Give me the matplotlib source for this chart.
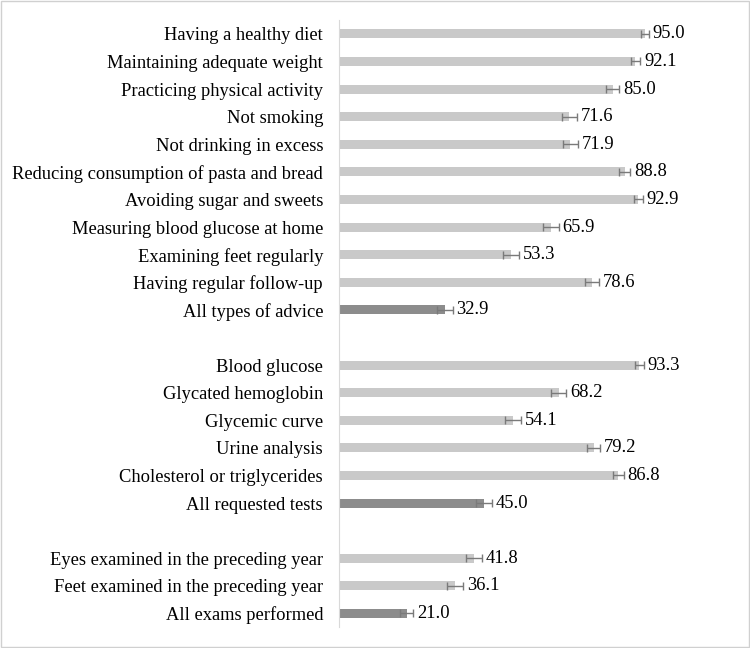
import matplotlib.pyplot as plt
import numpy as np

plt.rcParams['font.family'] = ['Liberation Serif', 'DejaVu Serif']

# groups of items, top to bottom; None marks the blank row between groups
labels = ['Having a healthy diet', 'Maintaining adequate weight', 'Practicing physical activity',
          'Not smoking', 'Not drinking in excess', 'Reducing consumption of pasta and bread',
          'Avoiding sugar and sweets', 'Measuring blood glucose at home', 'Examining feet regularly',
          'Having regular follow-up', 'All types of advice', None,
          'Blood glucose', 'Glycated hemoglobin', 'Glycemic curve', 'Urine analysis',
          'Cholesterol or triglycerides', 'All requested tests', None,
          'Eyes examined in the preceding year', 'Feet examined in the preceding year',
          'All exams performed']
values = [95.0, 92.1, 85.0, 71.6, 71.9, 88.8, 92.9, 65.9, 53.3, 78.6, 32.9, None,
          93.3, 68.2, 54.1, 79.2, 86.8, 45.0, None,
          41.8, 36.1, 21.0]
errors = [1.3, 1.5, 2.0, 2.3, 2.3, 1.7, 1.4, 2.4, 2.5, 2.1, 2.4, None,
          1.3, 2.4, 2.5, 2.0, 1.7, 2.5, None,
          2.5, 2.4, 2.0]
totals = ['All types of advice', 'All requested tests', 'All exams performed']

fig = plt.figure(figsize=(7.5, 6.48), dpi=100)
ax = fig.add_axes([0.452, 0.032, 0.50, 0.937])

n = len(labels)
for i, (lab, v, e) in enumerate(zip(labels, values, errors)):
    if lab is None:
        continue
    col = '#8c8c8c' if lab in totals else '#c9c9c9'
    ax.barh(i, v, height=0.33, color=col)
    ax.errorbar(v, i, xerr=e, fmt='none', ecolor='#7a7a7a', elinewidth=1, capsize=3, capthick=1)
    ax.text(v + e + 1.2, i, f'{v:.1f}', va='center', ha='left', fontsize=13.3)

ax.set_ylim(n - 0.5, -0.5)
ax.set_xlim(0, 116.5)
ax.set_yticks([i for i, l in enumerate(labels) if l is not None])
ax.set_yticklabels([l for l in labels if l is not None], fontsize=13.3)
ax.tick_params(axis='y', length=0, pad=11.5)
ax.set_xticks([])
for s in ['top', 'right', 'bottom']:
    ax.spines[s].set_visible(False)
ax.spines['left'].set_color('#d9d9d9')

fig.patches.append(plt.Rectangle((0.001, 0.001), 0.998, 0.998, transform=fig.transFigure,
                                 fill=False, edgecolor='#d0d0d0', linewidth=1))

fig.savefig('out.png', dpi=100)
